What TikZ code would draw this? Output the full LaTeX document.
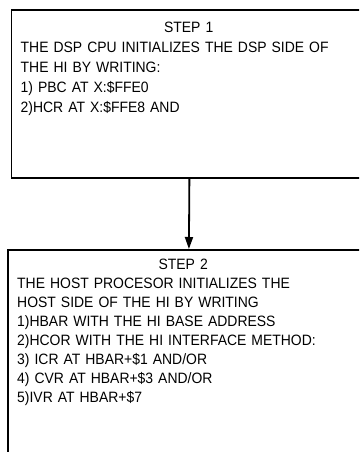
\documentclass[tikz,border=0pt]{standalone}
\usepackage{fontspec}
\setmainfont[FakeStretch=0.93]{Liberation Sans}
\usetikzlibrary{arrows.meta,positioning}

\begin{document}
\begin{tikzpicture}[x=1pt,y=1pt,
  stepbox/.style={draw, line width=1.8pt, inner sep=0pt, anchor=north west},
  steptext/.style={anchor=north west, inner sep=0pt, align=left, text width=330pt}]
  \clip (0,0) rectangle (359,452);
  % Kasse for steg 1
  \node[stepbox, minimum width=356pt, minimum height=168pt] (box1) at (10.5,443) {};
  \node[steptext, font=\fontsize{15}{20}\selectfont] (txt1) at ([shift={(10,-13)}]box1.north west)
    {\makebox[336pt]{STEP 1}\\
     THE DSP CPU INITIALIZES THE DSP SIDE OF\\
     THE HI BY WRITING:\\
     1) PBC AT X:\$FFE0\\
     2)HCR AT X:\$FFE8 AND};
  % Kasse for steg 2
  \node[stepbox, minimum width=362pt, minimum height=240pt] (box2) at (7,203) {};
  \node[steptext, font=\fontsize{15}{19}\selectfont] (txt2) at ([shift={(10,-10)}]box2.north west)
    {\makebox[332pt]{STEP 2}\\
     THE HOST PROCESOR INITIALIZES THE\\
     HOST SIDE OF THE HI BY WRITING\\
     1)HBAR WITH THE HI BASE ADDRESS\\
     2)HCOR WITH THE HI INTERFACE METHOD:\\
     3) ICR AT HBAR+\$1 AND/OR\\
     4) CVR AT HBAR+\$3 AND/OR\\
     5)IVR AT HBAR+\$7};
  % Pil mellom stegene
  \draw[line width=1.8pt, -{Triangle[length=12pt,width=8pt]}] (box1.south) -- (box2.north);
\end{tikzpicture}
\end{document}
